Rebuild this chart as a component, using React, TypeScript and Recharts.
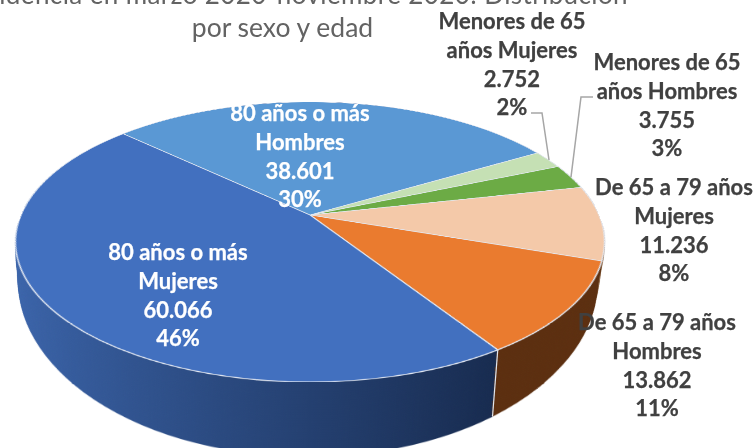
import { Pie, PieChart, Cell } from "recharts";

const names = [
  ["80 años o más", "Hombres"],
  ["Menores de 65", "años Mujeres"],
  ["Menores de 65", "años Hombres"],
  ["De 65 a 79 años", "Mujeres"],
  ["De 65 a 79 años", "Hombres"],
  ["80 años o más", "Mujeres"],
];
const values = [38601, 2752, 3755, 11236, 13862, 60066];
const valueLabels = ["38.601", "2.752", "3.755", "11.236", "13.862", "60.066"];
const percents = ["30%", "2%", "3%", "8%", "11%", "46%"];

const topColors = ["#5a98d4", "#c5e0b4", "#6cab45", "#f4c9a9", "#ea7b2f", "#4270bf"];
const sideColors = ["#2f5597", "#7a9a62", "#3f6b25", "#8f6a4a", "#5c2f10", "url(#sideBlue)"];

// centre x of each label block, y of its first line
const labelPos = [
  { x: 300, y: 121, fill: "#ffffff" },
  { x: 512, y: 29, fill: "#404040" },
  { x: 667, y: 70, fill: "#404040" },
  { x: 674, y: 195, fill: "#404040" },
  { x: 657, y: 330, fill: "#404040" },
  { x: 178, y: 260, fill: "#ffffff" },
];

const R = 300;
const START_ANGLE = 137;
const tableData = values.map((value, i) => ({ name: names[i].join(" "), value }));

// top face and bottom face of the disc, seen in perspective
const TOP = { x: 310, y: 215, a: 289, b: 134.8, s: 0.193 };
const BOTTOM = { x: 308, y: 248, a: 284, b: 168.5, s: 0.193 };
const SIDE_LAYERS = 48;

type Face = typeof TOP;

function lerpFace(t: number): Face {
  const mix = (p: number, q: number) => p + (q - p) * t;
  return {
    x: mix(TOP.x, BOTTOM.x),
    y: mix(TOP.y, BOTTOM.y),
    a: mix(TOP.a, BOTTOM.a),
    b: mix(TOP.b, BOTTOM.b),
    s: mix(TOP.s, BOTTOM.s),
  };
}

function project(f: Face, angleDeg: number) {
  const ux = Math.cos((angleDeg * Math.PI) / 180);
  const uy = -Math.sin((angleDeg * Math.PI) / 180);
  const w = 1 - f.s * uy;
  return { x: f.x + (f.a * ux) / w, y: f.y + (f.b * uy) / w };
}

function Disc({ face, colors, stroke }: { face: Face; colors: string[]; stroke?: boolean }) {
  const m = [face.a / R, 0, 0, 0, 0, face.b / R, 0, -face.s / R, 0, 0, 1, 0, 0, 0, 0, 1];
  return (
    <div
      style={{
        position: "absolute",
        left: face.x - R,
        top: face.y - R,
        width: R * 2,
        height: R * 2,
        transformOrigin: "50% 50%",
        transform: `matrix3d(${m.join(",")})`,
      }}
    >
      <PieChart width={R * 2} height={R * 2} margin={{ top: 0, right: 0, bottom: 0, left: 0 }}>
        <defs>
          <linearGradient id="sideBlue" gradientUnits="userSpaceOnUse" x1="0" y1="0" x2={R * 1.6} y2="0">
            <stop offset="0%" stopColor="#3c66ad" />
            <stop offset="100%" stopColor="#16294c" />
          </linearGradient>
        </defs>
        <Pie
          data={tableData}
          dataKey="value"
          cx={R}
          cy={R}
          innerRadius={0}
          outerRadius={R}
          startAngle={START_ANGLE}
          endAngle={START_ANGLE - 360}
          isAnimationActive={false}
          stroke={stroke ? "#e4e9f2" : "none"}
          strokeWidth={stroke ? 1.4 : 0}
          label={false}
          labelLine={false}
        >
          {values.map((_, i) => (
            <Cell key={i} fill={colors[i]} />
          ))}
        </Pie>
      </PieChart>
    </div>
  );
}

export default function App() {
  const layers = Array.from({ length: SIDE_LAYERS }, (_, i) => 1 - i / (SIDE_LAYERS - 1));
  const total = values.reduce((sum, v) => sum + v, 0);
  const seamAngle = START_ANGLE - (360 * (total - values[5])) / total;
  const seamTop = project(TOP, seamAngle);
  const seamBottom = project(BOTTOM, seamAngle);

  return (
    <div
      style={{
        position: "absolute",
        left: 0,
        top: 0,
        width: 754,
        height: 448,
        overflow: "hidden",
        background: "#ffffff",
        fontFamily: "Lato, sans-serif",
      }}
    >
      {layers.map((t) => (
        <Disc key={t} face={lerpFace(t)} colors={sideColors} />
      ))}
      <Disc face={TOP} colors={topColors} stroke />
      <svg width={754} height={448} style={{ position: "absolute", left: 0, top: 0 }}>
        <line
          x1={seamTop.x}
          y1={seamTop.y}
          x2={seamBottom.x}
          y2={seamBottom.y}
          stroke="#dfe5ee"
          strokeWidth={1.2}
        />
        <text x={296} y={4} textAnchor="middle" fontSize={26} fill="#636363" letterSpacing={0.4}>
          Incidencia en marzo 2020-noviembre 2020: Distribución
        </text>
        <text x={282.5} y={37} textAnchor="middle" fontSize={26.5} fill="#636363">
          por sexo y edad
        </text>
        <polyline points="531,113 542,113 549,160" fill="none" stroke="#a6a6a6" strokeWidth={1.5} />
        <polyline points="593,97 581,97 571,177" fill="none" stroke="#a6a6a6" strokeWidth={1.5} />
        {labelPos.map((pos, i) => (
          <text
            key={i}
            textAnchor="middle"
            fontSize={22}
            fontWeight={700}
            fill={pos.fill}
            stroke={pos.fill}
            strokeWidth={0.25}
          >
            {[...names[i], valueLabels[i], percents[i]].map((line, j) => (
              <tspan key={j} x={pos.x} y={pos.y + j * 28.8}>
                {line}
              </tspan>
            ))}
          </text>
        ))}
      </svg>
    </div>
  );
}
